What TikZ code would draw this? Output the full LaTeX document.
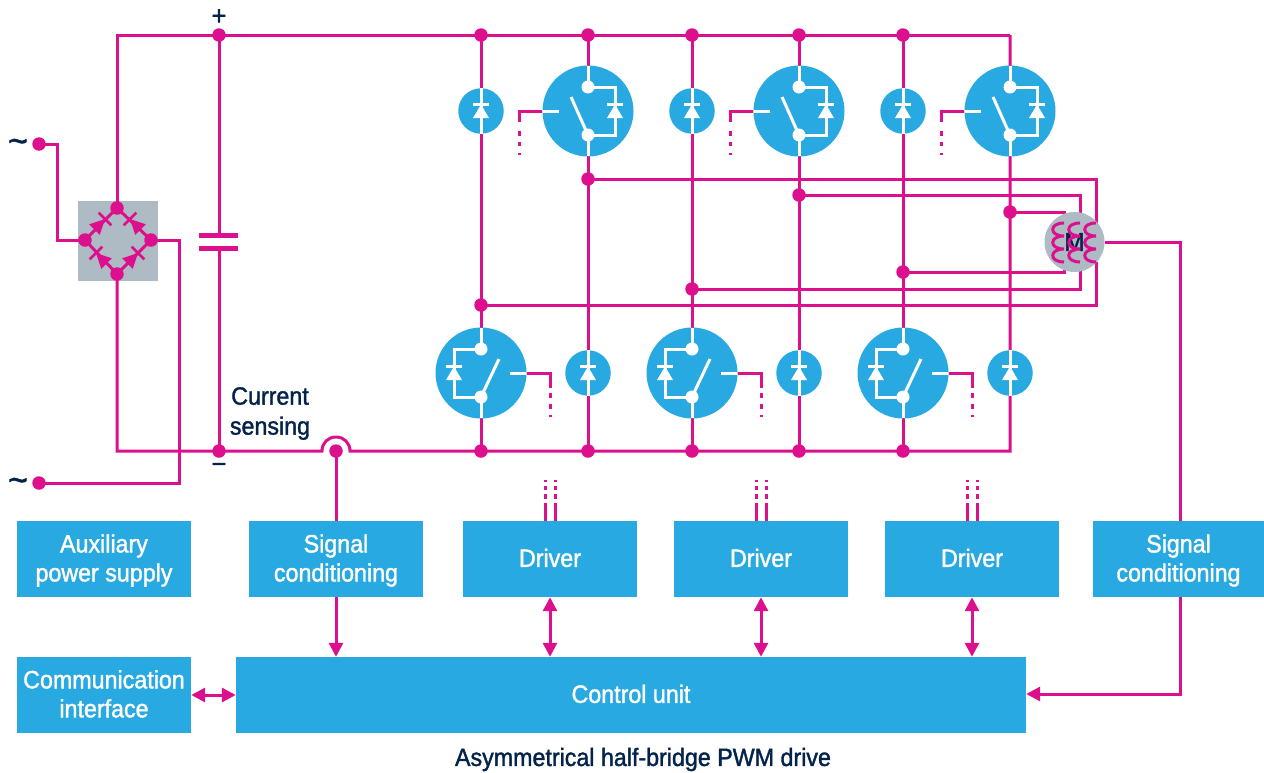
\documentclass[tikz,border=0pt]{standalone}
\usepackage{fontspec}
\setmainfont[FakeStretch=0.93,FakeBold=1.5]{Liberation Sans}
\usetikzlibrary{arrows.meta}
\definecolor{mag}{HTML}{DC0F8C}
\definecolor{sky}{HTML}{29A9E1}
\definecolor{slate}{HTML}{AEBBC4}
\definecolor{navy}{HTML}{03234B}
\tikzset{
  x=1pt,y=-1pt,
  wire/.style={draw=mag,line width=3pt,line join=miter},
  hw/.style={draw=white,line width=3pt},
  dot/.style={circle,fill=mag,inner sep=0pt,minimum size=13.5pt},
  bigc/.style={circle,fill=sky,inner sep=0pt,minimum size=91pt},
  smallc/.style={circle,fill=sky,inner sep=0pt,minimum size=45.5pt},
  box/.style={rectangle,fill=sky,text=white,inner sep=0pt,minimum width=174pt,minimum height=76pt,align=center,font=\fontsize{25}{29}\selectfont},
  lab/.style={text=navy,inner sep=0pt,align=center,font=\fontsize{25}{30}\selectfont},
  dbl/.style={wire,{Triangle[length=14pt,width=14pt]}-{Triangle[length=14pt,width=14pt]}},
  sgl/.style={wire,-{Triangle[length=14pt,width=14pt]}},
}
\newcommand{\strt}{\rule{0pt}{21pt}}
\newcommand{\dpt}{\rule[-2.5pt]{0pt}{1pt}}
\newcommand{\dgate}[2]{%
  \foreach \xx in {#1}{\foreach \a/\b in {479.5/482,486/490,494/499}{\draw[wire] (\xx,\a) -- (\xx,\b);}}}
\newcommand{\topsw}[2]{%
  \node[bigc] (#1) at (#2,111) {};
  \begin{scope}[shift={(#2,111)}]
    \draw[hw] (0,-45) -- (0,-24) (0,24) -- (0,45);
    \fill[white] (0,-24) circle[radius=6.5pt] (0,24) circle[radius=6.5pt];
    \draw[hw] (-17,-14) -- (0,24);
    \draw[hw] (0,-24) -- (27,-24) -- (27,24) -- (0,24);
    \draw[hw] (19,-6.5) -- (35,-6.5);
    \fill[white] (27,-6.5) -- (19,7) -- (35,7) -- cycle;
    \draw[hw] (-45,0) -- (-29,0);
    \coordinate (#1g) at (-69,11);
    \draw[wire] (#1.west) -| (#1g);
    \foreach \a/\b in {20/25,31/35,42/44}{\draw[wire] (-69,\a) -- (-69,\b);}
  \end{scope}}
\newcommand{\botsw}[2]{%
  \node[bigc] (#1) at (#2,373) {};
  \begin{scope}[shift={(#2,373)}]
    \draw[hw] (0,-45) -- (0,-24) (0,24) -- (0,45);
    \fill[white] (0,-24) circle[radius=6.5pt] (0,24) circle[radius=6.5pt];
    \draw[hw] (18,-14) -- (0,24);
    \draw[hw] (0,-24) -- (-27,-24) -- (-27,24) -- (0,24);
    \draw[hw] (-35,-6.5) -- (-19,-6.5);
    \fill[white] (-27,-6.5) -- (-35,7) -- (-19,7) -- cycle;
    \draw[hw] (29,0) -- (45,0);
    \coordinate (#1g) at (69,15);
    \draw[wire] (#1.east) -| (#1g);
    \foreach \a/\b in {20/25,31/36,42/44}{\draw[wire] (69,\a) -- (69,\b);}
  \end{scope}}
\newcommand{\smalld}[3]{%
  \node[smallc] (#1) at (#2,#3) {};
  \begin{scope}[shift={(#2,#3)}]
    \draw[hw] (0,-22.7) -- (0,22.7);
    \draw[hw] (-8,-6.5) -- (8,-6.5);
    \fill[white] (0,-6.5) -- (-8,7) -- (8,7) -- cycle;
  \end{scope}}
\newcommand{\coil}[1]{%
  \draw[wire] (#1,223) .. controls (#1-15,223) and (#1-15,236) .. (#1,236)
     .. controls (#1-15,236) and (#1-15,249) .. (#1,249)
     .. controls (#1-15,249) and (#1-15,262) .. (#1,262);}
\newcommand{\bdiode}[4]{%
  \fill[mag] (#1,#2) -- (#1-15*#3-7.5*#4,#2-15*#4+7.5*#3) -- (#1-15*#3+7.5*#4,#2-15*#4-7.5*#3) -- cycle;
  \draw[draw=mag,line width=2.6pt] (#1-9*#4,#2+9*#3) -- (#1+9*#4,#2-9*#3);}
\begin{document}
\begin{tikzpicture}
\useasboundingbox (0,0) rectangle (1264,772);
\foreach \n/\x in {a/481,b/588,c/692,d/799,e/903,f/1010,k/219}{
  \coordinate (T\n) at (\x,35);
  \coordinate (B\n) at (\x,451);
}
\coordinate (TL) at (117,35);
\coordinate (BL) at (117,451);
\coordinate (HL) at (322,451);
\coordinate (HR) at (350,451);
\coordinate (HC) at (336,451);
\coordinate (P1) at (588,179);
\coordinate (P2) at (799,195);
\coordinate (P3) at (1010,212);
\coordinate (N1) at (481,305);
\coordinate (N2) at (692,289);
\coordinate (N3) at (903,272);
\coordinate (R1) at (1096,223);
\coordinate (R2) at (1096,262);
\coordinate (M1) at (1080,223);
\coordinate (M2) at (1080,262);
\coordinate (L1) at (1064,223);
\coordinate (L2) at (1064,262);
\coordinate (Up) at (219,235);
\coordinate (Lo) at (219,248);
\coordinate (BrT) at (117,208);
\coordinate (BrB) at (117,274);
\coordinate (BrL) at (85,240);
\coordinate (BrR) at (151,240);
\coordinate (In1) at (39,144);
\coordinate (In2) at (39,483);
\node[box] (aux) at (104,559) {\strt Auxiliary\\power supply};
\node[box] (sig1) at (336,559) {\strt Signal\\conditioning};
\node[box] (drv1) at (550,559) {Driver\dpt};
\node[box] (drv2) at (761,559) {Driver\dpt};
\node[box] (drv3) at (972,559) {Driver\dpt};
\node[box,minimum width=171pt] (sig2) at (1178.5,559) {\strt Signal\\conditioning};
\node[box] (comm) at (104,695) {Communication\\interface\dpt};
\node[box,minimum width=790pt] (ctrl) at (631,695) {Control unit\dpt};
\node[rectangle,fill=slate,inner sep=0pt,minimum size=80pt] (bridge) at (118,241) {};
\draw[wire] (BrB) -- (BL) -- (HL) .. controls (322,443) and (328,437) .. (336,437) .. controls (344,437) and (350,443) .. (350,451) -- (Bf) -- (Tf);
\draw[wire] (BrT) -- (TL) -- (Tf);
\draw[wire] (Tk) -- (Up) (Lo) -- (Bk);
\draw[wire,line width=5pt] (199,235) -- (238,235) (199,248) -- (238,248);
\foreach \n in {a,b,c,d,e}{\draw[wire] (T\n) -- (B\n);}
\draw[wire] (P1) -| (R1);
\draw[wire] (N1) -| (R2);
\draw[wire] (P2) -| (M1);
\draw[wire] (N2) -| (M2);
\draw[wire] (P3) -| (L1);
\draw[wire] (N3) -| (L2);
\draw[wire] (In1) -- (57,144) -- (57,240) -- (BrL);
\draw[wire] (In2) -- (179,483) -- (179,240) -- (BrR);
\draw[wire] (BrT) -- (BrR) -- (BrB) -- (BrL) -- cycle;
\draw[wire] (HC) -- (sig1.north);
\draw[sgl] (sig1.south) -- (sig1.south |- ctrl.north);
\draw[dbl] (drv1.south) -- (drv1.south |- ctrl.north);
\draw[dbl] (drv2.south) -- (drv2.south |- ctrl.north);
\draw[dbl] (drv3.south) -- (drv3.south |- ctrl.north);
\draw[dbl] (comm.east) -- (ctrl.west);
\foreach \c/\dn in {550/drv1,761/drv2,972/drv3}{
  \draw[wire] (\c-5,503) -- (\c-5,521);
  \draw[wire] (\c+5,503) -- (\c+5,521);
  \dgate{\c-5,\c+5}{}
}
\bdiode{105}{219}{0.707}{-0.707}
\bdiode{130}{219}{-0.707}{-0.707}
\bdiode{96}{253}{-0.707}{-0.707}
\bdiode{138}{253}{0.707}{-0.707}
\topsw{q1}{588}\topsw{q2}{799}\topsw{q3}{1010}
\botsw{q4}{481}\botsw{q5}{692}\botsw{q6}{903}
\smalld{d1}{481}{111}\smalld{d2}{692}{111}\smalld{d3}{903}{111}
\smalld{d4}{588}{373}\smalld{d5}{799}{373}\smalld{d6}{1010}{373}
\node[circle,fill=slate,inner sep=0pt,minimum size=60pt] (motor) at (1074.5,242) {};
\node[text=navy,inner sep=0pt,font=\fontsize{26}{26}\selectfont] (mlabel) at (1074.5,242) {M};
\coil{1064}\coil{1080}\coil{1096}
\draw[wire] (motor.east) -- (1180,242) -- (sig2.north -| 1180,0);
\draw[sgl] (sig2.south -| 1180,0) -- (1180,694) -- (ctrl.east |- 0,694);
\foreach \p in {Tk,Ta,Tb,Tc,Td,Te,Bk,Ba,Bb,Bc,Bd,Be,HC,P1,P2,P3,N1,N2,N3,BrT,BrB,BrL,BrR,In1,In2}{
  \node[dot] (dot\p) at (\p) {};
}
\node[text=navy,inner sep=0pt,font=\fontsize{27}{27}\selectfont] (plus) at (219,17) {+};
\node[text=navy,inner sep=0pt,font=\fontsize{27}{27}\selectfont] (minus) at (219,468) {−};
\node[text=navy,inner sep=0pt,font=\fontsize{36}{36}\selectfont] (ac1) at (18,146) {\char"007E};
\node[text=navy,inner sep=0pt,font=\fontsize{36}{36}\selectfont] (ac2) at (18,485) {\char"007E};
\node[lab] (cs) at (270,413.5) {Current\\sensing};
\node[lab] (title) at (643,759.5) {Asymmetrical half-bridge PWM drive};
\end{tikzpicture}
\end{document}
